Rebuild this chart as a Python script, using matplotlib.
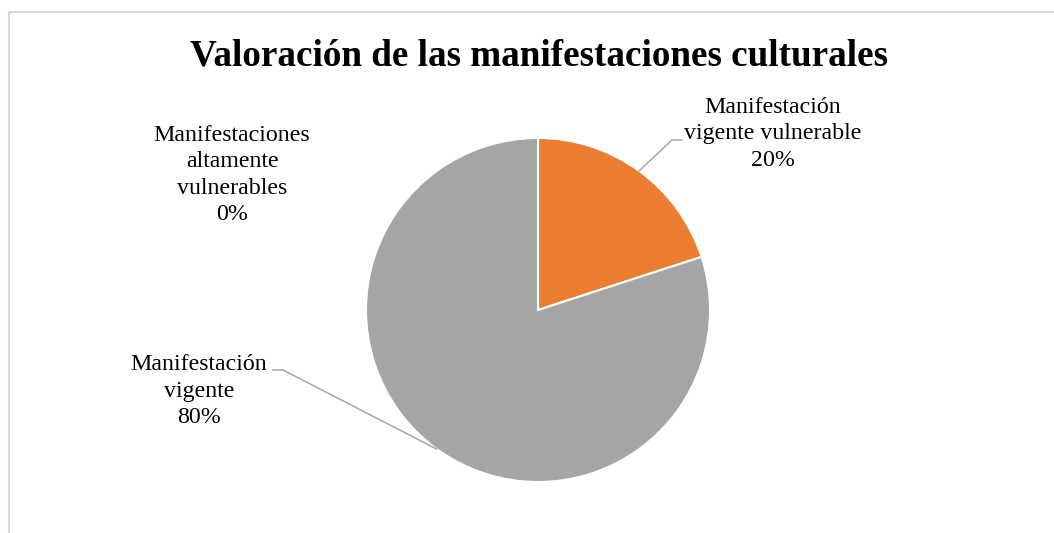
import numpy as np
import matplotlib
matplotlib.use('Agg')
from matplotlib import pyplot as plt

# data
labels = ['Manifestaciones\naltamente\nvulnerables', 'Manifestación\nvigente vulnerable', 'Manifestación\nvigente']
values = [0, 20, 80]
colors = ['#4472C4', '#ED7D31', '#A5A5A5']
title = 'Valoración de las manifestaciones culturales'

W, H = 1054, 533
fig = plt.figure(figsize=(W/100, H/100), dpi=100)
ax = fig.add_axes([0, 0, 1, 1])

plt.rcParams['font.family'] = ['Liberation Serif', 'DejaVu Serif']

# chart frame (only top and left visible in the crop)
frame_col = '#d9d9d9'
ax.plot([8.5, W + 5], [H - 12, H - 12], color=frame_col, lw=1.5, solid_capstyle='butt')
ax.plot([8.5, 8.5], [H - 12, -5], color=frame_col, lw=1.5, solid_capstyle='butt')

cx, cy, r = 538, H - 310, 172
wedges, _ = ax.pie(values, colors=colors, startangle=90, counterclock=False,
                   center=(cx, cy), radius=r, frame=True,
                   wedgeprops=dict(edgecolor='white', linewidth=1.5))
ax.set_xlim(0, W)
ax.set_ylim(0, H)
ax.set_aspect('auto')
ax.set_axis_off()

ax.text(539, H - 56, title, ha='center', va='center', fontsize=26.7, fontweight='bold')

# label centres and leader knees, in pixels from top-left
pct = ['%d%%' % v for v in values]
lab_pos = [(232, 175), (773, 134), (199, 391)]
knees = [None, ((672, 140), (682, 140)), ((283, 370), (273, 370))]
for i, (lbl, p) in enumerate(zip(labels, pct)):
    tx, ty = lab_pos[i]
    ax.text(tx, H - ty, lbl + '\n' + p, ha='center', va='center', fontsize=17.2,
            linespacing=1.32)
    if knees[i] is not None and values[i] > 0:
        w = wedges[i]
        mid = np.deg2rad((w.theta1 + w.theta2) / 2)
        ex, ey = cx + r*np.cos(mid), cy + r*np.sin(mid)
        (k1x, k1y), (k2x, k2y) = knees[i]
        ax.plot([ex, k1x, k2x], [ey, H - k1y, H - k2y], color='#a6a6a6', lw=1.1)

fig.savefig('out.png', dpi=100)
